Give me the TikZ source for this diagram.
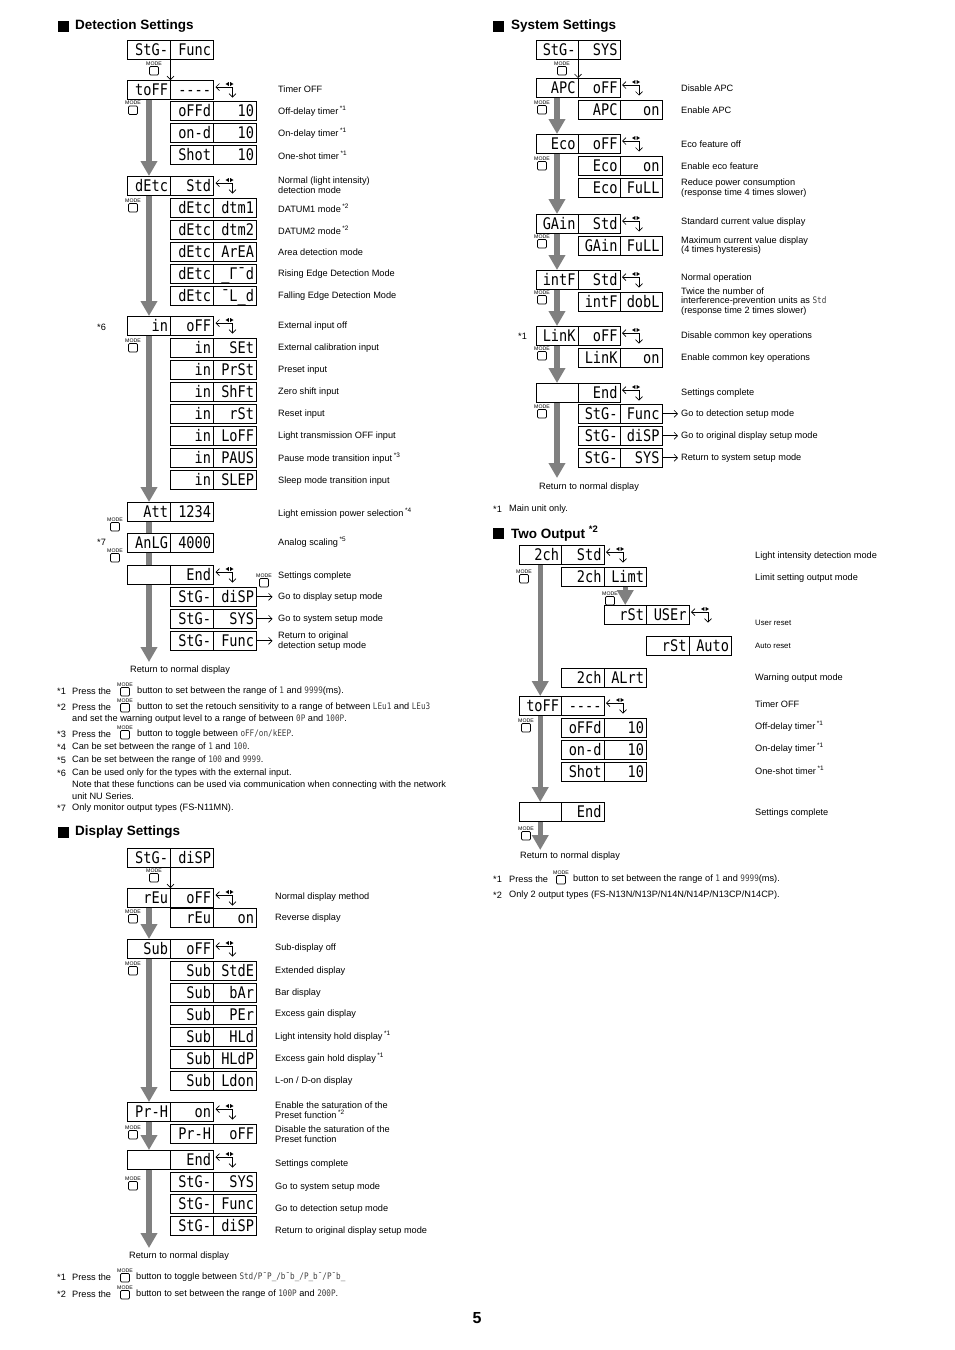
\documentclass[tikz,border=0pt]{standalone}
\usepackage{fontspec}
\setmainfont{Liberation Sans}
\newfontfamily\segf[FakeStretch=0.85]{DejaVu Sans Mono}
\usetikzlibrary{arrows.meta,calc}
\def\cwt{38pt}
\tikzset{
  seg/.style={draw, line width=1pt, outer sep=0pt, minimum height=19.5pt,
    text width=\cwt, inner xsep=2.5pt, inner ysep=0pt, align=right,
    text height=11pt, text depth=0pt, font=\segf\fontsize{16}{16}\selectfont},
  lab/.style={anchor=west, inner sep=0pt, align=left, font=\fontsize{9.2}{9.6}\selectfont},
  smalllab/.style={anchor=west, inner sep=0pt, align=left, font=\fontsize{7.8}{8.5}\selectfont},
  head/.style={anchor=west, inner sep=0pt, font=\bfseries\fontsize{13.5}{14}\selectfont},
  gbar/.style={line width=5.5pt, draw=black!50},
  garrow/.style={gbar, -{Triangle[length=15pt,width=16pt]}},
  tarrow/.style={line width=0.7pt, -{Straight Barb[length=3.5pt,width=7pt]}},
  modet/.style={inner sep=0pt, font=\fontsize{5.2}{5.2}\selectfont},
  modeb/.style={draw, line width=0.7pt, rounded corners=1.2pt, minimum width=9pt,
    minimum height=8.5pt, inner sep=0pt, outer sep=0pt},
}
\newcommand\twobox[5]{%
  \node[seg, anchor=north west] (#1a) at (#2,#3) {#4};
  \node[seg, anchor=north west] (#1b) at (#1a.north east) {#5};}
\newcommand\modeic[3]{%
  \node[modet] (#1t) at (#2,#3+2.5) {MODE};
  \node[modeb, anchor=north] (#1) at (#2,#3+5.5) {};}
\newcommand\cyc[1]{%
  \draw[line width=0.7pt, {Straight Barb[length=3.5pt,width=7pt]}-{Straight Barb[length=3.5pt,width=7pt]}]
    ($(#1b.north east)+(2,7)$) -- ++(17,0) -- ++(0,10.5);
  \fill ($(#1b.north east)+(15.4,2)$) -- ++(0,4) -- ++(-3.4,-2) -- cycle;
  \fill ($(#1b.north east)+(16.6,2)$) -- ++(0,4) -- ++(3.4,-2) -- cycle;}
\newcommand\sgx[1]{{\segf\fontsize{9}{9}\selectfont\color{black!75}#1}}
\newcommand\sx[1]{\,\textsuperscript{*#1}}
\begin{document}
\begin{tikzpicture}[x=1pt,y=-1pt]
\fill[white] (0,0) rectangle (954,1350);
\useasboundingbox (0,0) rectangle (954,1350);

%================ Detection Settings
\fill (58,21) rectangle (69,32);
\node[head] (hdet) at (75,26.5) {Detection Settings};
\def\cwt{38pt}
\twobox{dstg}{127.5}{40}{StG-}{Func}
\modeic{dm1}{154}{61}
\twobox{dtoff}{127.5}{80}{toFF}{----}
\draw[tarrow] (dstga.south east) -- (dtoffa.north east);
\cyc{dtoff}
\node[lab] (dl1) at (278,89) {Timer OFF};
\modeic{dm2}{133}{100.5}
\twobox{doffd}{170.5}{101}{oFFd}{10}
\twobox{dond}{170.5}{123}{on-d}{10}
\twobox{dshot}{170.5}{145}{Shot}{10}
\node[lab] (dl2) at (278,111) {Off-delay timer\sx{1}};
\node[lab] (dl3) at (278,133) {On-delay timer\sx{1}};
\node[lab] (dl4) at (278,155) {One-shot timer\sx{1}};
\twobox{ddetc}{127.5}{176}{dEtc}{Std}
\draw[garrow] (dtoffa.south) -- (ddetca.north);
\cyc{ddetc}
\node[lab] (dl5) at (278,185) {Normal (light intensity)\\detection mode};
\modeic{dm3}{133}{198}
\twobox{ddt1}{170.5}{198}{dEtc}{dtm1}
\twobox{ddt2}{170.5}{220}{dEtc}{dtm2}
\twobox{darea}{170.5}{242}{dEtc}{ArEA}
\twobox{drise}{170.5}{264}{dEtc}{\_Γ¯d}
\twobox{dfall}{170.5}{286}{dEtc}{¯L\_d}
\node[lab] (dl6) at (278,208) {DATUM1 mode\sx{2}};
\node[lab] (dl7) at (278,230) {DATUM2 mode\sx{2}};
\node[lab] (dl8) at (278,252) {Area detection mode};
\node[lab] (dl9) at (278,274) {Rising Edge Detection Mode};
\node[lab] (dl10) at (278,296) {Falling Edge Detection Mode};
\twobox{din}{127.5}{316}{in}{oFF}
\draw[garrow] (ddetca.south) -- (dina.north);
\cyc{din}
\node[lab] (dn6) at (97,327) {*6};
\node[lab] (dl11) at (278,326) {External input off};
\modeic{dm4}{133}{338}
\twobox{dset}{170.5}{338}{in}{SEt}
\twobox{dprst}{170.5}{360}{in}{PrSt}
\twobox{dshft}{170.5}{382}{in}{ShFt}
\twobox{drst}{170.5}{404}{in}{rSt}
\twobox{dloff}{170.5}{426}{in}{LoFF}
\twobox{dpaus}{170.5}{448}{in}{PAUS}
\twobox{dslep}{170.5}{470}{in}{SLEP}
\node[lab] (dl12) at (278,348) {External calibration input};
\node[lab] (dl13) at (278,370) {Preset input};
\node[lab] (dl14) at (278,392) {Zero shift input};
\node[lab] (dl15) at (278,414) {Reset input};
\node[lab] (dl16) at (278,436) {Light transmission OFF input};
\node[lab] (dl17) at (278,458) {Pause mode transition input\sx{3}};
\node[lab] (dl18) at (278,481) {Sleep mode transition input};
\twobox{datt}{127.5}{502}{Att}{1234}
\draw[garrow] (dina.south) -- (datta.north);
\node[lab] (dl19) at (278,513) {Light emission power selection\sx{4}};
\modeic{dm5}{115}{517}
\twobox{danlg}{127.5}{533}{AnLG}{4000}
\draw[gbar] (datta.south) -- (danlga.north);
\node[lab] (dn7) at (97,542) {*7};
\node[lab] (dl20) at (278,542) {Analog scaling\sx{5}};
\modeic{dm6}{115}{548}
\twobox{dend}{127.5}{565}{}{End}
\draw[gbar] (danlga.south) -- (denda.north);
\cyc{dend}
\modeic{dm7}{264}{573}
\node[lab] (dl21) at (278,576) {Settings complete};
\twobox{de1}{170.5}{587}{StG-}{diSP}
\twobox{de2}{170.5}{609}{StG-}{SYS}
\twobox{de3}{170.5}{631}{StG-}{Func}
\draw[tarrow] (de1b.east) -- ++(16,0);
\draw[tarrow] (de2b.east) -- ++(16,0);
\draw[tarrow] (de3b.east) -- ++(16,0);
\node[lab] (dl22) at (278,597) {Go to display setup mode};
\node[lab] (dl23) at (278,619) {Go to system setup mode};
\node[lab] (dl24) at (278,641) {Return to original\\detection setup mode};
\coordinate (dret) at (149,662);
\draw[garrow] (denda.south) -- (denda.south |- dret);
\node[lab] (dl25) at (130,670) {Return to normal display};

% footnotes detection
\node[lab] (fa1) at (57,691) {*1};
\node[lab] (fa1a) at (72,691) {Press the};
\modeic{fa1m}{125}{682}
\node[lab] (fa1b) at (137,691) {button to set between the range of \sgx{1} and \sgx{9999}(ms).};
\node[lab] (fa2) at (57,707) {*2};
\node[lab] (fa2a) at (72,707) {Press the};
\modeic{fa2m}{125}{698}
\node[lab] (fa2b) at (137,707) {button to set the retouch sensitivity to a range of between \sgx{LEu1} and \sgx{LEu3}};
\node[lab] (fa2c) at (72,719) {and set the warning output level to a range of between \sgx{0P} and \sgx{100P}.};
\node[lab] (fa3) at (57,734) {*3};
\node[lab] (fa3a) at (72,734) {Press the};
\modeic{fa3m}{125}{725}
\node[lab] (fa3b) at (137,734) {button to toggle between \sgx{oFF/on/kEEP}.};
\node[lab] (fa4) at (57,747) {*4};
\node[lab] (fa4a) at (72,747) {Can be set between the range of \sgx{1} and \sgx{100}.};
\node[lab] (fa5) at (57,760) {*5};
\node[lab] (fa5a) at (72,760) {Can be set between the range of \sgx{100} and \sgx{9999}.};
\node[lab] (fa6) at (57,773) {*6};
\node[lab] (fa6a) at (72,773) {Can be used only for the types with the external input.};
\node[lab] (fa6b) at (72,785) {Note that these functions can be used via communication when connecting with the network};
\node[lab] (fa6c) at (72,796) {unit NU Series.};
\node[lab] (fa7) at (57,808) {*7};
\node[lab] (fa7a) at (72,808) {Only monitor output types (FS-N11MN).};

%================ Display Settings
\fill (58,827) rectangle (69,838);
\node[head] (hdisp) at (75,832.5) {Display Settings};
\twobox{pstg}{127.5}{848}{StG-}{diSP}
\modeic{pm1}{154}{868}
\twobox{preu}{127.5}{888}{rEu}{oFF}
\draw[tarrow] (pstga.south east) -- (preua.north east);
\cyc{preu}
\node[lab] (pl1) at (275,897) {Normal display method};
\modeic{pm2}{133}{909}
\twobox{preu2}{170.5}{908}{rEu}{on}
\node[lab] (pl2) at (275,918) {Reverse display};
\twobox{psub}{127.5}{939}{Sub}{oFF}
\draw[garrow] (preua.south) -- (psuba.north);
\cyc{psub}
\node[lab] (pl3) at (275,948) {Sub-display off};
\modeic{pm3}{133}{961}
\twobox{ps1}{170.5}{961}{Sub}{StdE}
\twobox{ps2}{170.5}{983}{Sub}{bAr}
\twobox{ps3}{170.5}{1005}{Sub}{PEr}
\twobox{ps4}{170.5}{1027}{Sub}{HLd}
\twobox{ps5}{170.5}{1049}{Sub}{HLdP}
\twobox{ps6}{170.5}{1071}{Sub}{Ldon}
\node[lab] (pl4) at (275,971) {Extended display};
\node[lab] (pl5) at (275,993) {Bar display};
\node[lab] (pl6) at (275,1014) {Excess gain display};
\node[lab] (pl7) at (275,1036) {Light intensity hold display\sx{1}};
\node[lab] (pl8) at (275,1058) {Excess gain hold display\sx{1}};
\node[lab] (pl9) at (275,1081) {L-on / D-on display};
\twobox{pprh}{127.5}{1102}{Pr-H}{on}
\draw[garrow] (psuba.south) -- (pprha.north);
\cyc{pprh}
\node[lab] (pl10) at (275,1110) {Enable the saturation of the\\Preset function\sx{2}};
\modeic{pm4}{133}{1125}
\twobox{pprh2}{170.5}{1124}{Pr-H}{oFF}
\node[lab] (pl11) at (275,1134) {Disable the saturation of the\\Preset function};
\twobox{pend}{127.5}{1150}{}{End}
\draw[garrow] (pprha.south) -- (penda.north);
\cyc{pend}
\node[lab] (pl12) at (275,1164) {Settings complete};
\modeic{pm5}{133}{1176}
\twobox{pf1}{170.5}{1172}{StG-}{SYS}
\twobox{pf2}{170.5}{1194}{StG-}{Func}
\twobox{pf3}{170.5}{1216}{StG-}{diSP}
\node[lab] (pl13) at (275,1187) {Go to system setup mode};
\node[lab] (pl14) at (275,1209) {Go to detection setup mode};
\node[lab] (pl15) at (275,1231) {Return to original display setup mode};
\coordinate (pret) at (149,1248);
\draw[garrow] (penda.south) -- (penda.south |- pret);
\node[lab] (pl16) at (129,1256) {Return to normal display};
\node[lab] (fb1) at (57,1277) {*1};
\node[lab] (fb1a) at (72,1277) {Press the};
\modeic{fb1m}{125}{1268}
\node[lab] (fb1b) at (136,1277) {button to toggle between \sgx{Std/P¯P\_/b¯b\_/P\_b¯/P¯b\_}};
\node[lab] (fb2) at (57,1294) {*2};
\node[lab] (fb2a) at (72,1294) {Press the};
\modeic{fb2m}{125}{1285}
\node[lab] (fb2b) at (136,1294) {button to set between the range of \sgx{100P} and \sgx{200P}.};

%================ System Settings
\def\cwt{37pt}
\fill (493,21) rectangle (504,32);
\node[head] (hsys) at (511,26.5) {System Settings};
\twobox{sstg}{536}{40}{StG-}{SYS}
\modeic{sm1}{562}{61}
\twobox{sapc}{536}{78}{APC}{oFF}
\draw[tarrow] (sstga.south east) -- (sapca.north east);
\cyc{sapc}
\node[lab] (sl1) at (681,88) {Disable APC};
\modeic{sm2}{542}{100}
\twobox{sapc2}{578}{100}{APC}{on}
\node[lab] (sl2) at (681,110) {Enable APC};
\twobox{seco}{536}{134}{Eco}{oFF}
\draw[garrow] (sapca.south) -- (secoa.north);
\cyc{seco}
\node[lab] (sl3) at (681,144) {Eco feature off};
\modeic{sm3}{542}{156}
\twobox{seco2}{578}{156}{Eco}{on}
\twobox{seco3}{578}{178}{Eco}{FuLL}
\node[lab] (sl4) at (681,166) {Enable eco feature};
\node[lab] (sl5) at (681,188) {Reduce power consumption\\(response time 4 times slower)};
\twobox{sgain}{536}{214}{GAin}{Std}
\draw[garrow] (secoa.south) -- (sgaina.north);
\cyc{sgain}
\node[lab] (sl6) at (681,222) {Standard current value display};
\modeic{sm4}{542}{234}
\twobox{sgain2}{578}{236}{GAin}{FuLL}
\node[lab] (sl7) at (681,245.5) {Maximum current value display\\(4 times hysteresis)};
\twobox{sintf}{536}{270}{intF}{Std}
\draw[garrow] (sgaina.south) -- (sintfa.north);
\cyc{sintf}
\node[lab] (sl8) at (681,278) {Normal operation};
\modeic{sm5}{542}{290}
\twobox{sintf2}{578}{292}{intF}{dobL}
\node[lab] (sl9) at (681,301.5) {Twice the number of\\interference-prevention units as \sgx{Std}\\(response time 2 times slower)};
\twobox{slink}{536}{326}{LinK}{oFF}
\draw[garrow] (sintfa.south) -- (slinka.north);
\cyc{slink}
\node[lab] (sn1) at (518,336) {*1};
\node[lab] (sl10) at (681,336) {Disable common key operations};
\modeic{sm6}{542}{346}
\twobox{slink2}{578}{348}{LinK}{on}
\node[lab] (sl11) at (681,358) {Enable common key operations};
\twobox{send}{536}{383}{}{End}
\draw[garrow] (slinka.south) -- (senda.north);
\cyc{send}
\node[lab] (sl12) at (681,393) {Settings complete};
\modeic{sm7}{542}{404}
\twobox{sg1}{578}{404}{StG-}{Func}
\twobox{sg2}{578}{426}{StG-}{diSP}
\twobox{sg3}{578}{448}{StG-}{SYS}
\draw[tarrow] (sg1b.east) -- ++(16,0);
\draw[tarrow] (sg2b.east) -- ++(16,0);
\draw[tarrow] (sg3b.east) -- ++(16,0);
\node[lab] (sl13) at (681,414) {Go to detection setup mode};
\node[lab] (sl14) at (681,436) {Go to original display setup mode};
\node[lab] (sl15) at (681,458) {Return to system setup mode};
\coordinate (sret) at (557,478);
\draw[garrow] (senda.south) -- (senda.south |- sret);
\node[lab] (sl16) at (539,487) {Return to normal display};
\node[lab] (sfn1) at (493,509) {*1};
\node[lab] (sfn1a) at (509,509) {Main unit only.};

%================ Two Output
\def\cwt{37.5pt}
\fill (493,528) rectangle (504,539);
\node[head] (htwo) at (511,533.5) {Two Output \textsuperscript{*2}};
\twobox{ttch}{519}{545}{2ch}{Std}
\cyc{ttch}
\node[lab] (tl1) at (755,556) {Light intensity detection mode};
\modeic{tm1}{524}{569}
\twobox{tlim}{561.5}{567}{2ch}{Limt}
\node[lab] (tl2) at (755,578) {Limit setting output mode};
\twobox{tusr}{604}{605}{rSt}{USEr}
\draw[garrow] (tlimb.south) -- (tusra.north);
\modeic{tm2}{610}{591}
\cyc{tusr}
\node[smalllab] (tl3) at (755,623) {User reset};
\twobox{tauto}{646.5}{636}{rSt}{Auto}
\node[smalllab] (tl4) at (755,646) {Auto reset};
\twobox{talrt}{561.5}{668}{2ch}{ALrt}
\node[lab] (tl5) at (755,678) {Warning output mode};
\twobox{ttoff}{519}{696}{toFF}{----}
\draw[garrow] (ttcha.south) -- (ttoffa.north);
\cyc{ttoff}
\node[lab] (tl6) at (755,704) {Timer OFF};
\modeic{tm3}{526}{718}
\twobox{to1}{561.5}{718}{oFFd}{10}
\twobox{to2}{561.5}{740}{on-d}{10}
\twobox{to3}{561.5}{762}{Shot}{10}
\node[lab] (tl7) at (755,726) {Off-delay timer\sx{1}};
\node[lab] (tl8) at (755,748) {On-delay timer\sx{1}};
\node[lab] (tl9) at (755,770) {One-shot timer\sx{1}};
\twobox{tend}{519}{802}{}{End}
\draw[garrow] (ttoffa.south) -- (tenda.north);
\node[lab] (tl10) at (755,813) {Settings complete};
\modeic{tm4}{526}{826}
\coordinate (tret) at (541,850);
\draw[garrow] (tenda.south) -- (tenda.south |- tret);
\node[lab] (tl11) at (520,856) {Return to normal display};
\node[lab] (tf1) at (493,879) {*1};
\node[lab] (tf1a) at (509,879) {Press the};
\modeic{tf1m}{561}{870}
\node[lab] (tf1b) at (573,879) {button to set between the range of \sgx{1} and \sgx{9999}(ms).};
\node[lab] (tf2) at (493,895) {*2};
\node[lab] (tf2a) at (509,895) {Only 2 output types (FS-N13N/N13P/N14N/N14P/N13CP/N14CP).};

\node[font=\bfseries\fontsize{16}{16}\selectfont, inner sep=0pt] (pg) at (477,1318) {5};
\end{tikzpicture}
\end{document}
